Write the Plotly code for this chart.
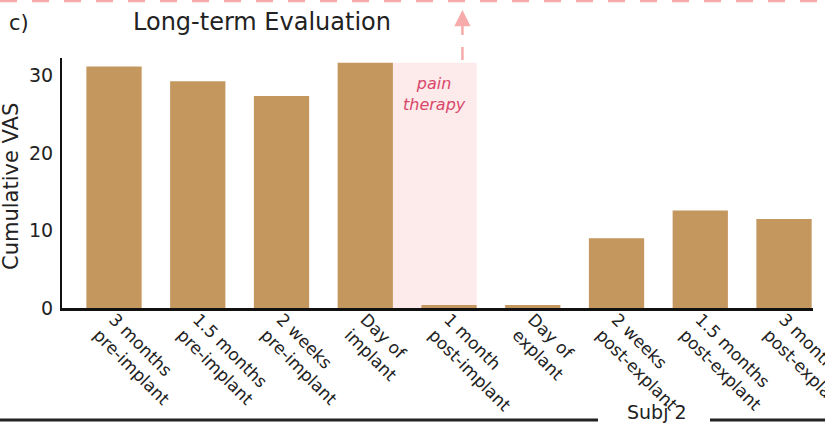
import plotly.graph_objects as go

categories = ["3 months<br>pre-implant", "1.5 months<br>pre-implant", "2 weeks<br>pre-implant",
              "Day of<br>implant", "1 month<br>post-implant", "Day of<br>explant",
              "2 weeks<br>post-explant", "1.5 months<br>post-explant", "3 months<br>post-explant"]
vas_values = [31.2, 29.3, 27.4, 31.7, 0.4, 0.4, 9.0, 12.6, 11.5]
y_ticks = [0, 10, 20, 30]

W, H = 825, 423
L, R, T, B = 62, 12, 58, 115
pw, ph = W - L - R, H - T - B

def px_x(px):
    return (px - L) / pw

def px_y(py):
    return (H - B - py) / ph

BAR = "#c4975f"
PINK = "#f6aaaa"
FONT = "DejaVu Sans"
DARK = "#222222"

xs = list(range(len(categories)))

fig = go.Figure()
fig.add_trace(go.Bar(x=xs, y=vas_values, marker_color=BAR, marker_line_width=0,
                     width=0.66, showlegend=False, hoverinfo="skip"))

# pain therapy shaded region
fig.add_shape(type="rect", xref="x", yref="y", x0=3.33, x1=4.33, y0=0, y1=vas_values[3],
              fillcolor="#fdeaea", line_width=0, layer="below")
fig.add_annotation(x=3.83, y=27.7, xref="x", yref="y", text="<i>pain<br>therapy</i>",
                   showarrow=False, font=dict(family=FONT, size=16, color="#d9476b"),
                   align="center", xanchor="center", yanchor="middle")

# dashed top line
fig.add_shape(type="line", xref="paper", yref="paper", x0=px_x(0), x1=px_x(W),
              y0=px_y(1), y1=px_y(1), line=dict(color=PINK, width=2.5, dash="17px,15px"))
# dashed vertical arrow
fig.add_shape(type="line", xref="x", yref="paper", x0=4.16, x1=4.16,
              y0=px_y(60), y1=px_y(22), line=dict(color=PINK, width=2.5, dash="13px,12px"))
fig.add_annotation(x=4.16, y=px_y(10), xref="x", yref="paper", ax=0, ay=14, text="",
                   showarrow=True, arrowhead=2, arrowsize=1.3, arrowwidth=2.5, arrowcolor=PINK)

# title and panel label
fig.add_annotation(x=px_x(262), y=px_y(22), xref="paper", yref="paper", text="Long-term Evaluation",
                   showarrow=False, xanchor="center", yanchor="middle",
                   font=dict(family=FONT, size=24, color=DARK))
fig.add_annotation(x=px_x(19), y=px_y(23), xref="paper", yref="paper", text="c)",
                   showarrow=False, xanchor="center", yanchor="middle",
                   font=dict(family=FONT, size=21, color=DARK))

# y-axis title
fig.add_annotation(x=px_x(11), y=px_y(187), xref="paper", yref="paper", text="Cumulative VAS",
                   textangle=-90, showarrow=False, xanchor="center", yanchor="middle",
                   font=dict(family=FONT, size=21, color=DARK))

# bottom subject bracket
fig.add_shape(type="line", xref="paper", yref="paper", x0=px_x(0), x1=px_x(598),
              y0=px_y(420), y1=px_y(420), line=dict(color=DARK, width=3))
fig.add_shape(type="line", xref="paper", yref="paper", x0=px_x(710), x1=px_x(W),
              y0=px_y(420), y1=px_y(420), line=dict(color=DARK, width=3))
fig.add_annotation(x=px_x(657), y=px_y(424), xref="paper", yref="paper", text="Subj 2",
                   showarrow=False, xanchor="center", yanchor="bottom", borderpad=0,
                   font=dict(family=FONT, size=19, color=DARK))

fig.update_layout(
    width=W, height=H,
    margin=dict(l=L, r=R, t=T, b=B, pad=0, autoexpand=False),
    paper_bgcolor="white", plot_bgcolor="white",
    font=dict(family=FONT, color=DARK),
    xaxis=dict(range=[-0.621, 8.346], tickmode="array", tickvals=xs, ticktext=categories,
               tickangle=45, showline=True, linecolor="#111111", linewidth=2.5,
               ticks="", showgrid=False, zeroline=False, automargin=False,
               ticklabeloverflow="allow", ticklabelstandoff=-8,
               tickfont=dict(size=17, family=FONT)),
    yaxis=dict(range=[0, 32.3], tickmode="array", tickvals=y_ticks, showline=True,
               linecolor="#111111", linewidth=2, ticks="", showgrid=False, zeroline=False,
               automargin=False, tickfont=dict(size=19, family=FONT), ticklabelstandoff=3),
)

fig.write_html("out.html", config={"displayModeBar": False},
               post_script="document.body.style.margin='0';")
